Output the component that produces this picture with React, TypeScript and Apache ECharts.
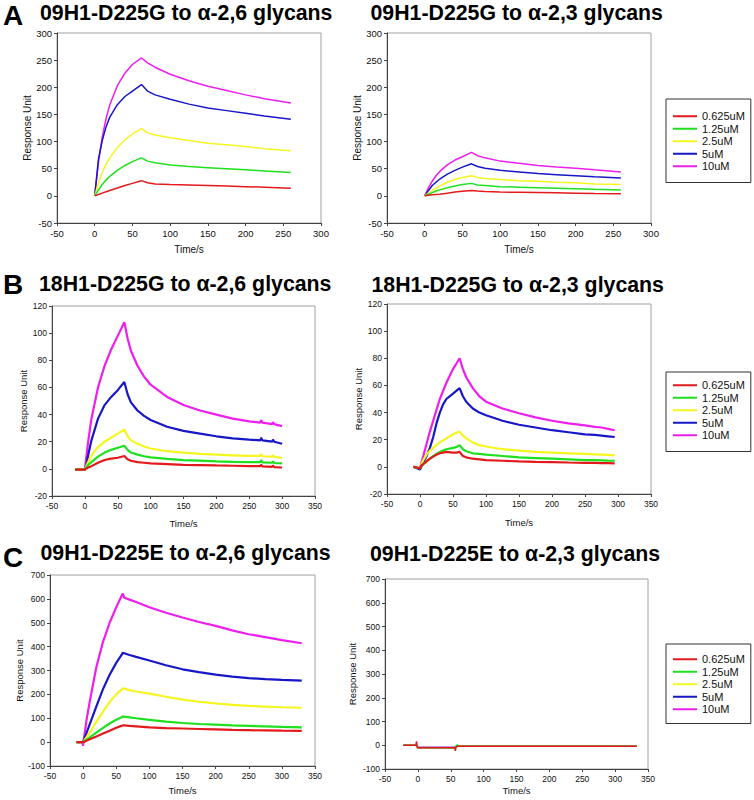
import React, { useEffect, useRef } from "react";
import * as echarts from "echarts";

// ---------- text ----------
const LETTERS = ["A", "B", "C"];
const TITLES = [
  "09H1-D225G to α-2,6 glycans",
  "09H1-D225G to α-2,3 glycans",
  "18H1-D225G to α-2,6 glycans",
  "18H1-D225G to α-2,3 glycans",
  "09H1-D225E to α-2,6 glycans",
  "09H1-D225E to α-2,3 glycans",
];
const CONCS = ["0.625uM", "1.25uM", "2.5uM", "5uM", "10uM"];
const X_NAME = "Time/s";
const Y_NAME = "Response Unit";

// ---------- panel A (09H1-D225G) ----------
const A_T = [0, 5, 10, 15, 20, 30, 40, 50, 62, 70, 80, 100, 125, 150, 175, 200, 225, 260];
const A26_R = [0, 2.5, 5, 7.5, 10, 14.5, 19, 23, 28, 24, 22, 21, 20, 19, 18, 17, 16, 14];
const A26_G = [0, 11, 21, 29, 36, 47, 56, 63, 70, 64, 61, 57, 54, 52, 50, 48, 46, 43];
const A26_Y = [0, 24, 43, 58, 70, 89, 103, 114, 124, 116, 112, 107, 102, 97, 94, 91, 87, 83];
const A26_B = [0, 68, 102, 127, 145, 168, 183, 193, 205, 193, 186, 178, 169, 162, 157, 152, 147, 141];
const A26_M = [0, 62, 108, 142, 168, 203, 226, 242, 254, 245, 237, 224, 212, 202, 194, 186, 179, 171];
const A23_R = [0, 1, 2, 2.5, 3, 5, 7, 8.5, 10, 9, 8, 7, 6.5, 6, 5.5, 5, 4.5, 4];
const A23_G = [0, 3, 6, 9, 11, 15, 18, 21, 23, 20, 19, 17, 16, 15, 14, 13, 12, 11];
const A23_Y = [0, 5, 10, 14, 18, 25, 30, 34, 37, 34, 32, 30, 28, 27, 25, 24, 22, 21];
const A23_B = [0, 10, 19, 25, 31, 40, 47, 53, 59, 54, 51, 47, 44, 41, 39, 37, 35, 33];
const A23_M = [0, 15, 27, 37, 45, 57, 66, 72, 80, 74, 70, 64, 60, 56, 53, 51, 48, 44];

// ---------- panel B (18H1-D225G) ----------
const B26_T = [-15, -5, 0, 3, 5, 10, 20, 30, 40, 50, 60, 65, 70, 80, 90, 100, 125, 150, 175, 200, 225, 250, 267, 268, 270, 285, 286, 288, 300];
const B26_R = [-0.5, -0.5, -0.5, 0.5, 1, 2, 4.5, 6.5, 7.5, 8.2, 9.5, 7, 6, 5, 4.5, 4, 3.5, 3, 2.8, 2.5, 2.3, 2, 2, 3, 1.8, 1.5, 2.5, 1.3, 1];
const B26_G = [-0.5, -0.5, -0.5, 1.5, 3, 5, 9, 12, 14, 15.5, 17, 14, 12, 10.5, 9.3, 8.5, 7.3, 6.5, 6, 5.5, 5.2, 5, 5, 6.5, 4.8, 4.5, 5.5, 4.3, 4];
const B26_Y = [-0.5, -0.5, -0.5, 3, 5, 10, 16, 20, 23, 26, 29, 24, 21, 18.5, 16.5, 15, 13, 12, 11, 10.5, 10, 9.5, 9.5, 11, 9.3, 9, 10, 8.8, 8];
const B26_B = [-0.5, -0.5, -0.5, 5, 10, 21, 37, 47, 53, 58, 64, 55, 49, 43, 39, 36, 31, 28, 26, 24, 22.5, 21.5, 21, 23, 21, 20, 21.5, 20, 18.5];
const B26_M = [-0.5, -0.5, -0.5, 12, 20, 37, 60, 76, 88, 98, 108, 96, 87, 76, 68, 62, 53, 47, 43, 40, 37, 35, 34, 36, 34, 33, 34.5, 33, 31.5];
const B23_T = [-10, 0, 2, 5, 10, 15, 20, 25, 30, 35, 40, 50, 55, 60, 65, 70, 80, 90, 100, 125, 150, 175, 200, 225, 250, 265, 275, 285, 295];
const B23_R = [0, -1, 1, 2, 4, 6, 7.5, 9, 10, 10.5, 11, 10.5, 10.5, 11, 8, 7, 6, 5.5, 5, 4.5, 4, 3.7, 3.5, 3.2, 3, 3, 2.8, 2.7, 2.5];
const B23_G = [0, -1, 0.5, 2, 4, 6, 8, 9.5, 11, 12, 13, 14, 14.5, 16, 13, 11.5, 10, 9.5, 9, 8, 7, 6.5, 6, 5.5, 5, 5, 4.8, 4.6, 4.5];
const B23_Y = [0, -1, 2, 5, 9, 12, 14, 16, 18, 19.5, 21, 24, 25, 26, 23, 21, 18, 16, 15, 13, 12, 11, 10.5, 10, 9.5, 9.2, 9, 8.8, 8.5];
const B23_B = [0, -2, 0, 3, 8, 14, 22, 32, 40, 46, 50, 54, 56, 58, 52, 48, 43, 40, 38, 34, 31, 29, 27, 25.5, 24, 23.5, 23, 22.5, 22];
const B23_M = [0, -1, 3, 8, 17, 26, 34, 42, 50, 56, 62, 72, 76, 80, 72, 66, 58, 52, 48, 43, 39.5, 36.5, 34, 32, 30.5, 29.5, 29, 28, 27];

// ---------- panel C (09H1-D225E) ----------
const C26_T = [-10, -1, 0, 1, 5, 10, 20, 30, 40, 50, 58, 60, 62, 70, 80, 100, 125, 150, 175, 200, 225, 250, 275, 300, 330];
const C26_R = [0, 0, 0, 1, 6, 12, 24, 36, 48, 60, 68, 70, 70, 68, 66, 62, 59, 57, 55, 53, 51, 50, 49, 48, 47];
const C26_G = [0, 0, 0, 2, 10, 20, 40, 60, 78, 94, 104, 108, 107, 104, 100, 93, 86, 80, 76, 73, 70, 68, 66, 64, 62];
const C26_Y = [0, 0, 0, 4, 20, 40, 85, 128, 168, 200, 220, 226, 224, 218, 212, 203, 190, 178, 169, 162, 156, 152, 149, 146, 144];
const C26_B = [0, 0, 0, 8, 38, 75, 150, 222, 282, 332, 365, 375, 372, 365, 357, 342, 322, 305, 293, 283, 274, 268, 264, 261, 258];
const C26_M = [0, 0, -15, 10, 90, 170, 315, 420, 500, 565, 612, 622, 605, 597, 587, 565, 542, 522, 503, 487, 468, 452, 440, 427, 414];
const C23_T = [-22, -3, -2, -1, 0, 1, 56, 57, 58, 60, 62, 333];
const C23_R = [0, 0, 16, -10, -10, -10, -10, -24, -8, -4, -4, -4];
const C23_G = [0, 0, 0, -4, -12, -10, -10, -8, -3, 2, -4, -4];
const C23_Y = [0, 0, 0, -3, -10, -10, -10, -10, -6, -4, -4, -4];
const C23_B = [0, 0, 0, -3, -9, -9, -9, -9, -6, -4, -4, -4];
const C23_M = [0, 0, 0, -3, -9, -9, -9, -9, -6, -4, -4, -4];

// ---------- axes ----------
const X_MIN = [-50, -50, -50, -50, -50, -50];
const X_MAX = [300, 300, 350, 350, 350, 350];
const Y_MIN = [-50, -50, -20, -20, -100, -100];
const Y_MAX = [300, 300, 120, 120, 700, 700];
const Y_STEP = [50, 50, 20, 20, 100, 100];

const COLORS = ["#e31a1c", "#1fe01f", "#f5f520", "#1717c8", "#ee1eee"];
const FONT = "'Liberation Sans', Arial, Helvetica, sans-serif";

const PANELS = [
  { t: A_T, v: [A26_R, A26_G, A26_Y, A26_B, A26_M] },
  { t: A_T, v: [A23_R, A23_G, A23_Y, A23_B, A23_M] },
  { t: B26_T, v: [B26_R, B26_G, B26_Y, B26_B, B26_M] },
  { t: B23_T, v: [B23_R, B23_G, B23_Y, B23_B, B23_M] },
  { t: C26_T, v: [C26_R, C26_G, C26_Y, C26_B, C26_M] },
  { t: C23_T, v: [C23_R, C23_G, C23_Y, C23_B, C23_M] },
];

// layout (px)
const GRIDS = [
  { left: 57, top: 33, width: 264, height: 190 },
  { left: 387, top: 33, width: 264, height: 190 },
  { left: 52, top: 306, width: 263, height: 190 },
  { left: 387, top: 304, width: 264, height: 190 },
  { left: 50, top: 575, width: 265, height: 191 },
  { left: 385, top: 579, width: 263, height: 190 },
];
const TICK_FS = [9.5, 9.5, 8.5, 8.5, 8.5, 8.5];
const NAME_FS = [10, 10, 9.5, 9.5, 9.5, 9.5];
const X_NAME_GAP = [21, 21, 22, 23, 19, 16];
const Y_NAME_GAP = [25, 25, 24, 24, 25, 28];
const LINE_W = [1.5, 1.5, 2.2, 2.2, 2.2, 1.5];
const TITLE_POS = [
  { x: 40, y: 12.5 },
  { x: 370.5, y: 12.5 },
  { x: 39, y: 283.5 },
  { x: 371.5, y: 284.5 },
  { x: 40.5, y: 552.5 },
  { x: 370, y: 553.5 },
];
const LETTER_POS = [
  { x: 3, y: 15 },
  { x: 3, y: 284.5 },
  { x: 3, y: 557.5 },
];
const LEGEND_POS = [
  { top: 99, pad: [11, 6, 10, 7] },
  { top: 372, pad: [7, 6, 10, 7] },
  { top: 644, pad: [9, 6, 8, 7] },
];

export default function App() {
  const ref = useRef<HTMLDivElement>(null);
  useEffect(() => {
    if (!ref.current) return;
    const chart = echarts.init(ref.current, undefined, { renderer: "svg" });

    const grid = GRIDS.map((g) => ({
      ...g,
      show: true,
      borderColor: "#a0a0a0",
      borderWidth: 1,
      backgroundColor: "#ffffff",
      containLabel: false,
    }));

    const xAxis = GRIDS.map((_, i) => ({
      type: "value",
      gridIndex: i,
      min: X_MIN[i],
      max: X_MAX[i],
      interval: 50,
      name: X_NAME,
      nameLocation: "middle",
      nameGap: X_NAME_GAP[i],
      nameTextStyle: { fontSize: NAME_FS[i], color: "#111", fontFamily: FONT },
      axisLine: { show: true, onZero: false, lineStyle: { color: "#444", width: 1 } },
      axisTick: { show: true, inside: false, length: 3, lineStyle: { color: "#444" } },
      axisLabel: { fontSize: TICK_FS[i], color: "#111", margin: 5, fontFamily: FONT },
      splitLine: { show: false },
    }));

    const yAxis = GRIDS.map((_, i) => ({
      type: "value",
      gridIndex: i,
      min: Y_MIN[i],
      max: Y_MAX[i],
      interval: Y_STEP[i],
      name: Y_NAME,
      nameLocation: "middle",
      nameRotate: 90,
      nameGap: Y_NAME_GAP[i],
      nameTextStyle: { fontSize: NAME_FS[i], color: "#111", fontFamily: FONT },
      axisLine: { show: true, onZero: false, lineStyle: { color: "#444", width: 1 } },
      axisTick: { show: true, inside: false, length: 3, lineStyle: { color: "#444" } },
      axisLabel: { fontSize: TICK_FS[i], color: "#111", margin: 5, fontFamily: FONT },
      splitLine: { show: false },
    }));

    const series: any[] = [];
    PANELS.forEach((p, gi) => {
      // draw magenta first so red sits on top
      for (let k = 4; k >= 0; k--) {
        series.push({
          type: "line",
          name: CONCS[k],
          xAxisIndex: gi,
          yAxisIndex: gi,
          data: p.t.map((x, j) => [x, p.v[k][j]]),
          symbol: "none",
          showSymbol: false,
          smooth: false,
          silent: true,
          lineStyle: { width: LINE_W[gi], color: COLORS[k] },
          itemStyle: { color: COLORS[k] },
        });
      }
    });

    const legend = LEGEND_POS.map((l) => ({
      data: CONCS.map((c) => ({ name: c, icon: "rect" })),
      orient: "vertical",
      left: 666,
      top: l.top,
      padding: l.pad,
      itemGap: 0,
      itemWidth: 24,
      itemHeight: 2,
      itemTextGap: 6,
      borderColor: "#333",
      borderWidth: 1,
      backgroundColor: "#fff",
      selectedMode: false,
      textStyle: { fontSize: 11, color: "#111", fontFamily: FONT, lineHeight: 12.5 },
    }));

    const graphic: any[] = [];
    TITLES.forEach((t, i) => {
      graphic.push({
        type: "text",
        x: TITLE_POS[i].x,
        y: TITLE_POS[i].y,
        style: {
          text: t,
          fontSize: 21.3,
          fontWeight: "bold",
          fontFamily: FONT,
          fill: "#000",
          verticalAlign: "middle",
          align: "left",
        },
      });
    });
    LETTERS.forEach((t, i) => {
      graphic.push({
        type: "text",
        x: LETTER_POS[i].x,
        y: LETTER_POS[i].y,
        style: {
          text: t,
          fontSize: 28,
          fontWeight: "bold",
          fontFamily: FONT,
          fill: "#000",
          verticalAlign: "middle",
          align: "left",
        },
      });
    });

    chart.setOption({
      animation: false,
      backgroundColor: "#ffffff",
      textStyle: { fontFamily: FONT },
      grid,
      xAxis,
      yAxis,
      legend,
      series,
      graphic,
    });
    return () => chart.dispose();
  }, []);
  return (
    <div
      ref={ref}
      style={{ position: "absolute", left: 0, top: 0, width: 754, height: 800 }}
    />
  );
}
